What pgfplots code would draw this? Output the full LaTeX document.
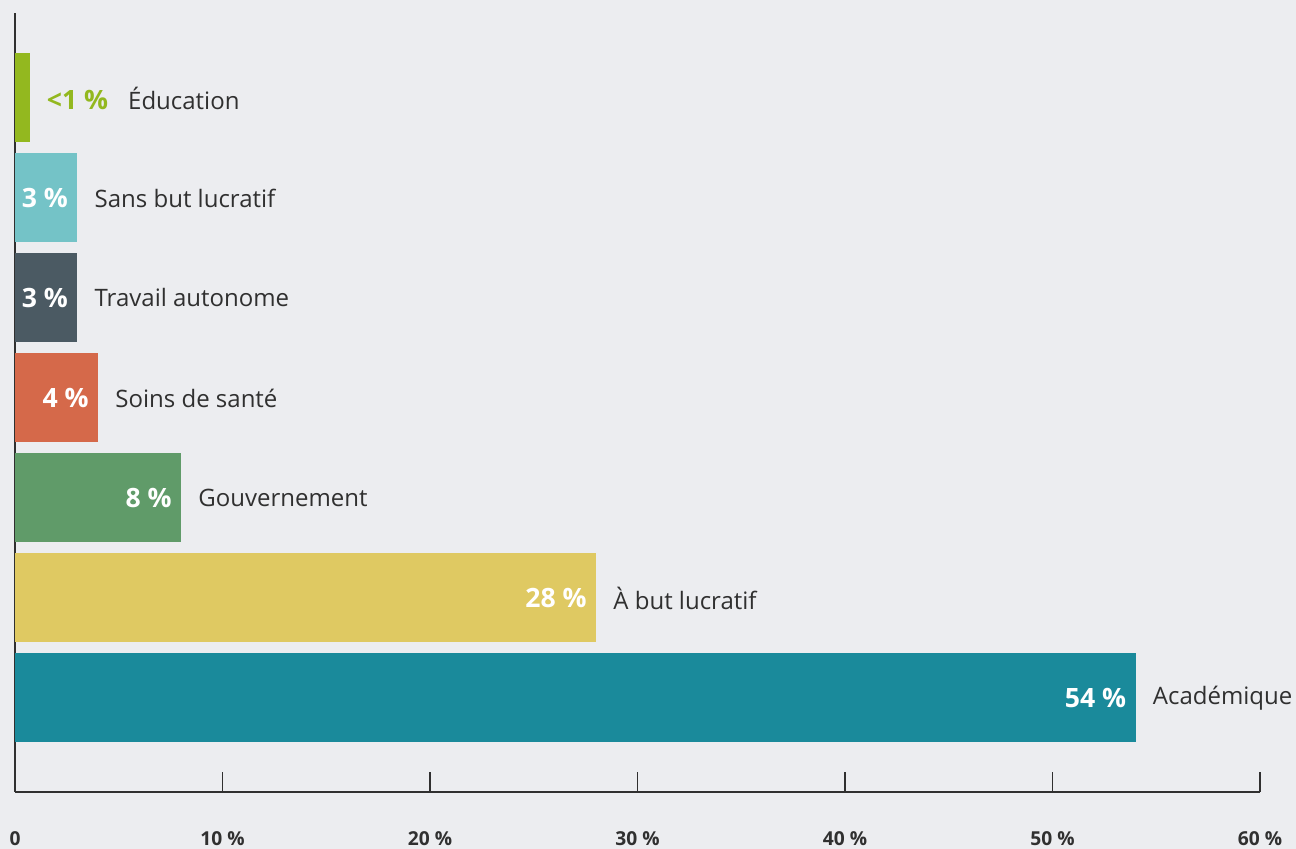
\documentclass[border=0pt]{standalone}
\usepackage{pgfplots}
\pgfplotsset{compat=1.18}
\usepackage{fontspec}
\setmainfont{Open Sans}

\definecolor{bg}{HTML}{ECEDF0}
\definecolor{edu}{HTML}{93B81F}
\definecolor{sbl}{HTML}{74C3C7}
\definecolor{trav}{HTML}{4B5A63}
\definecolor{soins}{HTML}{D5694A}
\definecolor{gouv}{HTML}{609B69}
\definecolor{abl}{HTML}{DFC962}
\definecolor{acad}{HTML}{1A8A9B}
\definecolor{txt}{HTML}{303030}

\tikzset{
    lbl/.style={anchor=west, text=txt, font=\fontsize{12}{15}\selectfont, inner sep=0pt, xshift=8.5pt},
    val/.style={anchor=east, text=white, font=\bfseries\fontsize{13.3}{15}\selectfont, inner sep=0pt, xshift=-4.5pt},
}

\begin{document}
\begin{tikzpicture}
\fill[bg] (-7.5pt,-28.5pt) rectangle (640.5pt,396pt);
\begin{axis}[
    at={(0,0)}, anchor=south west,
    scale only axis,
    width=622.5pt, height=389.5pt,
    xmin=0, xmax=60,
    ymin=-0.94, ymax=6.85,
    axis lines=left,
    axis line style={-, line width=0.6pt, color=txt},
    xtick={0,10,20,30,40,50,60},
    xticklabels={0,10 \%,20 \%,30 \%,40 \%,50 \%,60 \%},
    xticklabel style={anchor=base, yshift=-27pt, font=\bfseries\fontsize{9.6}{11}\selectfont, text=txt},
    tick align=inside,
    major tick length=10pt,
    tick style={line width=0.6pt, color=txt},
    ytick=\empty,
    xbar, bar width=0.89, bar shift=0pt,
    clip=false,
]
\addplot[fill=acad, draw=none] coordinates {(54,0)};
\addplot[fill=abl, draw=none] coordinates {(28,1)};
\addplot[fill=gouv, draw=none] coordinates {(8,2)};
\addplot[fill=soins, draw=none] coordinates {(4,3)};
\addplot[fill=trav, draw=none] coordinates {(3,4)};
\addplot[fill=sbl, draw=none] coordinates {(3,5)};
\addplot[fill=edu, draw=none] coordinates {(0.7,6)};

\node[val] at (axis cs:54,0) {54 \%};
\node[lbl] at (axis cs:54,0) {Académique};
\node[val] at (axis cs:28,1) {28 \%};
\node[lbl] at (axis cs:28,1) {À but lucratif};
\node[val] at (axis cs:8,2) {8 \%};
\node[lbl] at (axis cs:8,2) {Gouvernement};
\node[val] at (axis cs:4,3) {4 \%};
\node[lbl] at (axis cs:4,3) {Soins de santé};
\node[val] at (axis cs:3,4) {3 \%};
\node[lbl] at (axis cs:3,4) {Travail autonome};
\node[val] at (axis cs:3,5) {3 \%};
\node[lbl] at (axis cs:3,5) {Sans but lucratif};
\node[lbl] at (axis cs:0.7,6) {{\color{edu}\bfseries\fontsize{13.3}{15}\selectfont <1 \%}\hspace{10pt}Éducation};
\end{axis}
\pgfresetboundingbox
\path (-7.5pt,-28.5pt) rectangle (640.5pt,396pt);
\end{tikzpicture}
\end{document}
